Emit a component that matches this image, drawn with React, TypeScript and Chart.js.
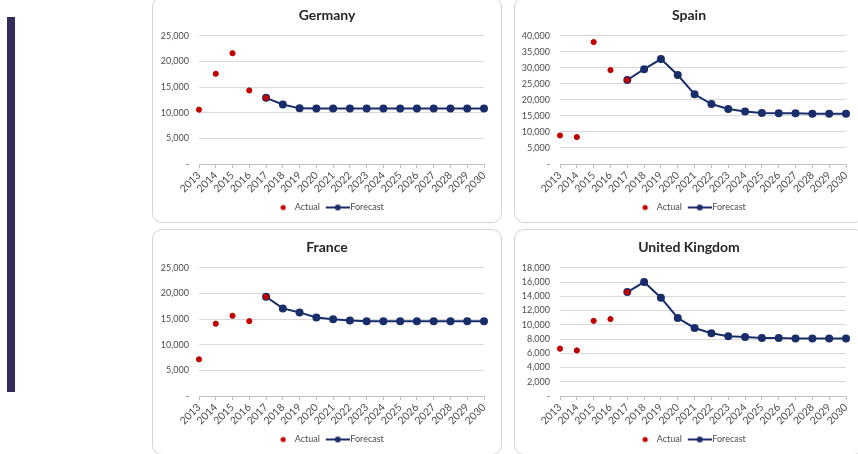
import React, { useEffect, useRef } from 'react';
import { Chart, registerables } from 'chart.js';

Chart.register(...registerables);

const years = ['2013','2014','2015','2016','2017','2018','2019','2020','2021','2022','2023','2024','2025','2026','2027','2028','2029','2030'];
const actualYears = ['2013','2014','2015','2016','2017'];
const forecastYears = ['2017','2018','2019','2020','2021','2022','2023','2024','2025','2026','2027','2028','2029','2030'];

const germanyActual = [10600, 17600, 21600, 14350, 12900];
const germanyForecast = [12900, 11600, 10850, 10800, 10800, 10800, 10800, 10800, 10800, 10800, 10800, 10800, 10800, 10800];

const spainActual = [8900, 8400, 38050, 29300, 26200];
const spainForecast = [26200, 29600, 32750, 27750, 21750, 18700, 17150, 16400, 15900, 15800, 15800, 15700, 15700, 15700];

const franceActual = [7150, 14100, 15650, 14600, 19350];
const franceForecast = [19350, 17080, 16300, 15300, 14950, 14700, 14600, 14600, 14600, 14600, 14600, 14600, 14600, 14600];

const ukActual = [6650, 6400, 10550, 10800, 14600];
const ukForecast = [14600, 16000, 13800, 10950, 9550, 8800, 8380, 8270, 8130, 8130, 8080, 8080, 8080, 8080];

const RED = '#c00000';
const NAVY = '#1a2d6b';
const TEXT = '#4d4d4d';
const FONT = 'Lato, "Open Sans", sans-serif';

function alignToYears(labels: string[], values: number[]): (number | null)[] {
  return years.map((y) => {
    const i = labels.indexOf(y);
    return i >= 0 ? values[i] : null;
  });
}

function makeActualIcon(): HTMLCanvasElement {
  const c = document.createElement('canvas');
  c.width = 20; c.height = 8;
  const ctx = c.getContext('2d')!;
  ctx.fillStyle = RED;
  ctx.beginPath();
  ctx.arc(13, 4, 2.6, 0, Math.PI * 2);
  ctx.fill();
  return c;
}

function makeForecastIcon(): HTMLCanvasElement {
  const c = document.createElement('canvas');
  c.width = 28; c.height = 8;
  const ctx = c.getContext('2d')!;
  ctx.strokeStyle = NAVY;
  ctx.lineWidth = 2;
  ctx.beginPath();
  ctx.moveTo(4, 4);
  ctx.lineTo(28, 4);
  ctx.stroke();
  ctx.fillStyle = NAVY;
  ctx.beginPath();
  ctx.arc(16, 4, 3, 0, Math.PI * 2);
  ctx.fill();
  return c;
}

type PanelProps = {
  title: string;
  actual: number[];
  forecast: number[];
  yMax: number;
  yStep: number;
  left: number;
  top: number;
  yWidth: number;
};

function Panel({ title, actual, forecast, yMax, yStep, left, top, yWidth }: PanelProps) {
  const ref = useRef<HTMLCanvasElement>(null);
  useEffect(() => {
    if (!ref.current) return;
    const actualIcon = makeActualIcon();
    const forecastIcon = makeForecastIcon();
    const chart = new Chart(ref.current, {
      type: 'line',
      data: {
        labels: years,
        datasets: [
          {
            label: 'Actual',
            data: alignToYears(actualYears, actual),
            showLine: false,
            pointStyle: 'circle',
            pointRadius: 2.6,
            pointBackgroundColor: RED,
            pointBorderColor: RED,
            pointBorderWidth: 1,
            borderColor: RED,
            backgroundColor: RED,
          },
          {
            label: 'Forecast',
            data: alignToYears(forecastYears, forecast),
            borderColor: NAVY,
            backgroundColor: NAVY,
            borderWidth: 2,
            pointRadius: 3,
            pointBackgroundColor: NAVY,
            pointBorderColor: NAVY,
            tension: 0,
          },
        ],
      },
      options: {
        responsive: false,
        animation: false,
        layout: { padding: 0 },
        plugins: {
          tooltip: { enabled: false },
          title: {
            display: true,
            text: title,
            color: '#262626',
            font: { family: FONT, size: 14, weight: 'bold' },
            padding: { top: 7, bottom: 12 },
          },
          legend: {
            position: 'bottom',
            labels: {
              usePointStyle: true,
              pointStyleWidth: 20,
              padding: 6,
              color: TEXT,
              font: { family: FONT, size: 9 },
              generateLabels: () => [
                { text: 'Actual', pointStyle: actualIcon as any, fillStyle: RED, strokeStyle: RED, lineWidth: 0, hidden: false, datasetIndex: 0, fontColor: TEXT } as any,
                { text: 'Forecast', pointStyle: forecastIcon as any, fillStyle: NAVY, strokeStyle: NAVY, lineWidth: 0, hidden: false, datasetIndex: 1, fontColor: TEXT } as any,
              ],
            },
          },
        },
        scales: {
          x: {
            offset: false,
            grid: {
              display: true,
              drawOnChartArea: false,
              drawTicks: true,
              tickLength: 4,
              color: '#bfbfbf',
            },
            border: { display: true, color: '#bfbfbf', width: 1 },
            ticks: {
              autoSkip: false,
              maxRotation: 45,
              minRotation: 45,
              padding: 1,
              color: TEXT,
              font: { family: FONT, size: 10.5 },
            },
            afterFit: (scale: any) => { scale.height = 33; },
          },
          y: {
            min: 0,
            max: yMax,
            grid: { color: '#d9d9d9', drawTicks: false, lineWidth: 1 },
            border: { display: false },
            ticks: {
              stepSize: yStep,
              padding: 10,
              color: TEXT,
              font: { family: FONT, size: 9 },
              callback: (v: any) => (Number(v) === 0 ? '-' : Number(v).toLocaleString('en-US')),
            },
            afterFit: (scale: any) => { scale.width = yWidth; },
          },
          spacer: {
            type: 'linear',
            position: 'right',
            display: true,
            grid: { display: false, drawTicks: false },
            border: { display: false },
            ticks: { display: false },
            afterFit: (scale: any) => { scale.width = 18; },
          },
        },
      },
    });
    return () => chart.destroy();
  }, []);

  return (
    <>
      <div
        style={{
          position: 'absolute',
          left: left,
          top: top - 3,
          width: 348,
          height: 224,
          border: '1px solid #d4d4d4',
          borderRadius: 10,
          background: '#fff',
        }}
      />
      <canvas
        ref={ref}
        width={350}
        height={222}
        style={{ position: 'absolute', left: left, top: top, width: 350, height: 222 }}
      />
    </>
  );
}

export default function App() {
  return (
    <div
      style={{
        position: 'fixed',
        left: 0,
        top: 0,
        width: 858,
        height: 454,
        overflow: 'hidden',
        background: '#fff',
      }}
    >
      <div style={{ position: 'absolute', left: 7, top: 17, width: 8, height: 375, background: '#352c5e' }} />
      <Panel title="Germany" actual={germanyActual} forecast={germanyForecast} yMax={25000} yStep={5000} left={152} top={0} yWidth={47} />
      <Panel title="Spain" actual={spainActual} forecast={spainForecast} yMax={40000} yStep={5000} left={514} top={0} yWidth={46} />
      <Panel title="France" actual={franceActual} forecast={franceForecast} yMax={25000} yStep={5000} left={152} top={232} yWidth={47} />
      <Panel title="United Kingdom" actual={ukActual} forecast={ukForecast} yMax={18000} yStep={2000} left={514} top={232} yWidth={46} />
    </div>
  );
}
